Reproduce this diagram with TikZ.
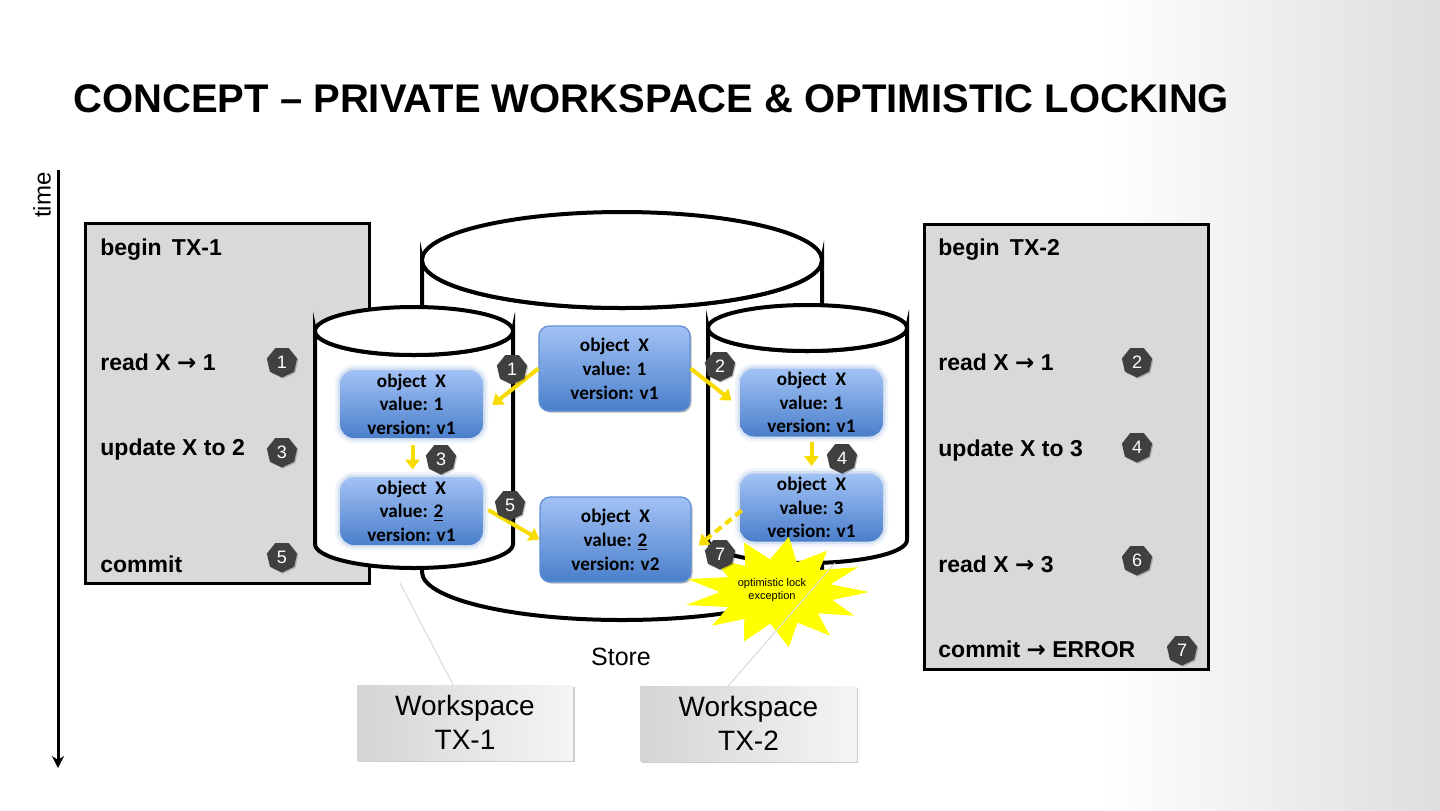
\documentclass[tikz,border=0pt]{standalone}
\usepackage{fontspec}
\setmainfont{Liberation Sans}
\newfontfamily\calfont{Carlito}
\newfontfamily\symfont{DejaVu Sans}
\newcommand{\rarr}{{\symfont\bfseries →}}
\usetikzlibrary{shapes.geometric,shadows,arrows.meta,calc}
\definecolor{bluetop}{HTML}{A3C2F5}
\definecolor{bluebot}{HTML}{4A7FCB}
\definecolor{blueedge}{HTML}{5F8FD6}
\definecolor{arrowyel}{HTML}{F8DC00}
\definecolor{burstyel}{HTML}{FFFF00}
\definecolor{panelgray}{HTML}{D9D9D9}
\definecolor{markgray}{HTML}{404040}
\definecolor{wsleft}{HTML}{D4D4D4}
\definecolor{wsright}{HTML}{F5F5F5}
\begin{document}
\begin{tikzpicture}[x=0.5pt,y=-0.5pt,
  panel/.style={draw=black, line width=1.5pt, fill=panelgray, minimum width=142pt, inner sep=0pt},
  ptext/.style={anchor=base west, font=\bfseries\fontsize{11.5}{13}\selectfont, inner sep=0pt},
  mk/.style={regular polygon, regular polygon sides=7, shape border rotate=180, fill=markgray, text=white,
    inner sep=0pt, minimum size=15.5pt, font=\fontsize{9}{9}\selectfont,
    drop shadow={shadow xshift=0.6pt, shadow yshift=-0.6pt, fill=black, opacity=0.2}},
  obj/.style={rounded corners=5pt, draw=blueedge, line width=0.6pt, top color=bluetop, bottom color=bluebot,
    minimum width=75.5pt, minimum height=42.5pt, inner sep=0pt, align=center,
    font=\calfont\bfseries\fontsize{9.6}{12}\selectfont,
    drop shadow={shadow xshift=0.8pt, shadow yshift=-0.8pt, fill=black, opacity=0.25}},
  blurobj/.style={rounded corners=7pt, top color=bluetop, bottom color=bluebot,
    minimum width=71.5pt, minimum height=34pt, inner sep=0pt, align=center,
    font=\calfont\bfseries\fontsize{9.6}{11.8}\selectfont,
    preaction={draw=bluebot!70, line width=5pt, draw opacity=0.12},
    preaction={draw=bluebot!70, line width=2.5pt, draw opacity=0.22}},
  cyl/.style={draw=black, line width=2pt, fill=white},
  yarr/.style={draw=arrowyel, line width=2pt, -{Triangle[width=7pt,length=5pt]}},
  ws/.style={left color=wsleft, right color=wsright, minimum width=108pt, minimum height=37.5pt,
    inner sep=0pt, align=center, font=\fontsize{14}{17}\selectfont,
    drop shadow={shadow xshift=0.8pt, shadow yshift=-0.8pt, fill=black, opacity=0.2}},
  callout/.style={draw=gray!30, line width=0.5pt}
]
\useasboundingbox (0,0) rectangle (1440,810);
% background
\fill[white] (0,0) rectangle (1440,810);
\shade[left color=white, right color=black!13] (1100,0) rectangle (1440,810);

% title
\node[anchor=base west, inner sep=0pt, font=\bfseries\fontsize{20}{24}\selectfont] (title) at (73,112)
  {CONCEPT – PRIVATE WORKSPACE \& OPTIMISTIC LOCKING};

% time axis
\coordinate (t0) at (58,170);
\coordinate (t1) at (58,768);
\draw[line width=1.5pt, -{Stealth[width=6pt,length=6pt]}] (t0) -- (t1);
\node[rotate=90, font=\fontsize{12}{14}\selectfont] (timelbl) at (42,195) {time};

% panels
\node[panel, minimum height=180pt] (tx1) at (227,403) {};
\node[panel, minimum height=222.5pt] (tx2) at (1066,446.5) {};

\node[ptext] (a1) at (100,255) {begin\, TX-1};
\node[ptext] (a2) at (100,370) {read X \rarr\ 1};
\node[ptext] (a3) at (100,455) {update X to 2};
\node[ptext] (a4) at (100,572) {commit};

\node[ptext] (b1) at (938,255) {begin\, TX-2};
\node[ptext] (b2) at (938,370) {read X \rarr\ 1};
\node[ptext] (b3) at (938,456) {update X to 3};
\node[ptext] (b4) at (938,572) {read X \rarr\ 3};
\node[ptext] (b5) at (938,657) {commit \rarr\ ERROR};

% big store cylinder
\draw[cyl] (422,260) -- (422,572) arc[start angle=180,end angle=0,x radius=200,y radius=48]
  -- (822,260) arc[start angle=0,end angle=180,x radius=200,y radius=48] -- cycle;
\draw[cyl] (622,260) ellipse[x radius=200,y radius=48];

% left workspace cylinder
\draw[cyl] (315,331) -- (315,544) arc[start angle=180,end angle=0,x radius=99,y radius=24]
  -- (513,331) arc[start angle=0,end angle=180,x radius=99,y radius=24] -- cycle;
\draw[cyl] (414,331) ellipse[x radius=99,y radius=24];

% right workspace cylinder
\draw[cyl] (708,328) -- (708,540) arc[start angle=180,end angle=0,x radius=99.5,y radius=23]
  -- (907,328) arc[start angle=0,end angle=180,x radius=99.5,y radius=23] -- cycle;
\draw[cyl] (807.5,328) ellipse[x radius=99.5,y radius=23];

% objects
\node[obj] (ctop) at (614.5,368.5) {object~~X\\ value: 1\\ version: v1};
\node[obj] (cbot) at (615.5,539.5) {object~~X\\ value: \underline{2}\\ version: v2};
\node[blurobj] (ltop) at (411.5,404) {object~~X\\ value: 1\\ version: v1};
\node[blurobj] (lbot) at (411.5,511) {object~~X\\ value: \underline{2}\\ version: v1};
\node[blurobj] (rtop) at (811.5,402.5) {object~~X\\ value: 1\\ version: v1};
\node[blurobj] (rbot) at (811.5,507.5) {object~~X\\ value: 3\\ version: v1};

% yellow arrows
\draw[yarr] (ctop.west) -- ($(ltop.east)+(9,1)$);
\draw[yarr] (ctop.east) -- ($(rtop.west)+(-8,-2)$);
\draw[yarr] ($(ltop.south)+(1,7)$) -- ($(lbot.north)+(1,-7)$);
\draw[yarr] ($(rtop.south)+(0,5)$) -- ($(rbot.north)+(0,-7)$);
\draw[yarr] ($(lbot.east)+(5,-1)$) -- (cbot.west);
\draw[yarr, dash pattern=on 4pt off 2.5pt] ($(rbot.west)+(2,3)$) -- ($(cbot.east)+(7,6)$);

% burst
\begin{scope}[shift={(777,592)}]
\begin{scope}[xscale=92,yscale=53]
\fill[burstyel] (0:1) \foreach \a/\f in {14/0.62,28/0.95,42/0.6,55/1.0,69/0.62,83/1.05,97/0.6,111/1.0,125/0.62,138/0.95,152/0.6,166/1.02,180/0.62,194/1.0,208/0.6,222/0.95,235/0.6,249/1.0,263/0.62,277/1.05,291/0.6,305/0.95,318/0.62,332/1.0,346/0.6} { -- (\a:\f) } -- cycle;
\end{scope}
\end{scope}
\node[align=center, inner sep=0pt, font=\fontsize{5.5}{6.5}\selectfont] (bursttext) at (772,590) {optimistic lock\\exception};

% markers
\node[mk] (m1) at (282,362) {1};
\node[mk] (m3) at (282,452) {3};
\node[mk] (m5) at (282,557) {5};
\node[mk] (n2) at (1137,362) {2};
\node[mk] (n4) at (1137,447) {4};
\node[mk] (n6) at (1137,560) {6};
\node[mk] (n7) at (1182,650) {7};
\node[mk] (c1) at (512,369) {1};
\node[mk] (c2) at (720,366) {2};
\node[mk] (c3) at (441,459) {3};
\node[mk] (c4) at (842,458) {4};
\node[mk] (c5) at (510,505) {5};
\node[mk] (c7) at (720,554) {7};

% workspace labels
\node[ws] (ws1) at (465,722.5) {Workspace\\TX-1};
\node[ws] (ws2) at (748.5,723.5) {Workspace\\TX-2};
\coordinate (w1tip) at (400,583);
\coordinate (w2tip) at (835,563);
\draw[callout] ($(ws1.north)+(-12,0)$) -- (w1tip);
\draw[callout] ($(ws2.north)+(-20,0)$) -- (w2tip);

\node[font=\fontsize{12.5}{14}\selectfont] (store) at (621,657) {Store};
\end{tikzpicture}
\end{document}
